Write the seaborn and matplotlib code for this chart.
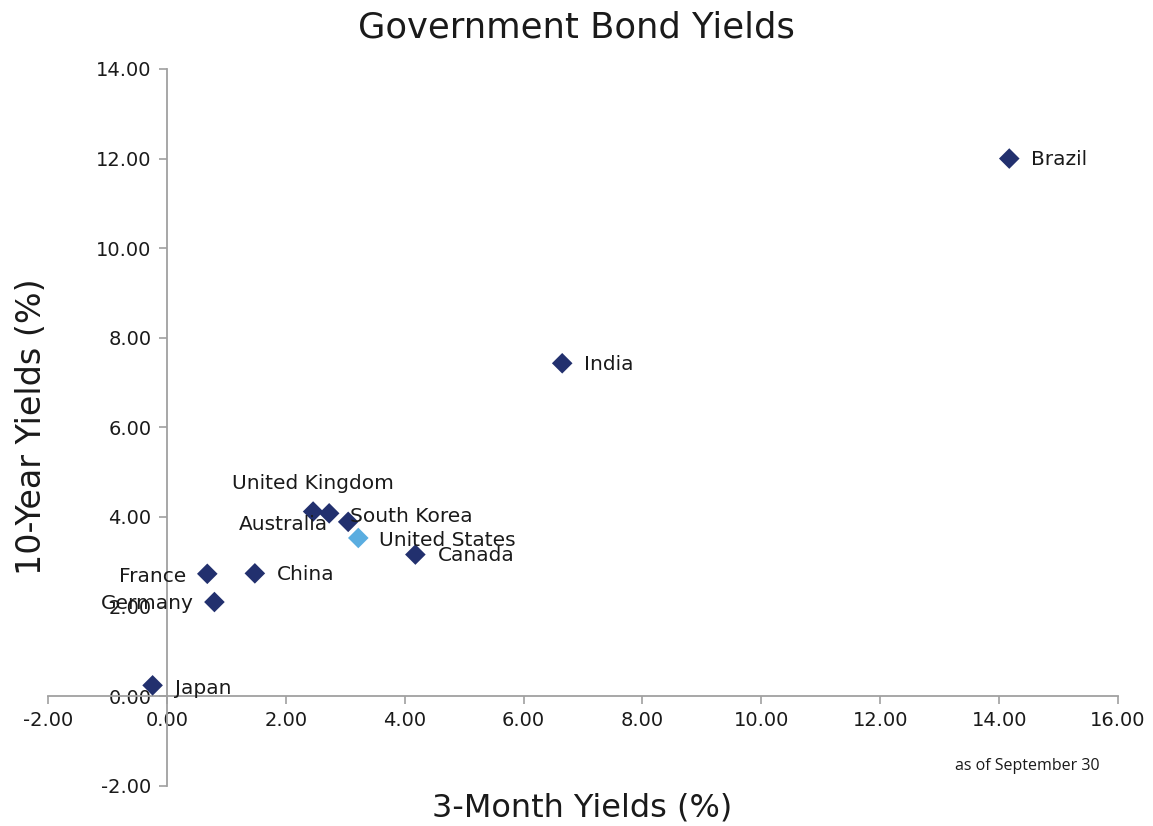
import seaborn as sns
import pandas as pd
import matplotlib.pyplot as plt

# data (3-month yield, 10-year yield)
countries = ["Brazil", "India", "United Kingdom", "Australia", "South Korea",
             "United States", "Canada", "China", "France", "Germany", "Japan"]
three_month = [14.17, 6.65, 2.46, 2.73, 3.05, 3.22, 4.18, 1.48, 0.68, 0.80, -0.24]
ten_year = [12.00, 7.43, 4.12, 4.08, 3.89, 3.53, 3.16, 2.74, 2.73, 2.10, 0.24]
highlight = ["other"] * 5 + ["us"] + ["other"] * 5

# label offsets in points and alignment, to mimic the hand-placed Excel labels
label_pos = {
    "Brazil": (16, -1, "left"),
    "India": (16, -1, "left"),
    "United Kingdom": (0, 20, "center"),
    "Australia": (-1, -8, "right"),
    "South Korea": (1, 4, "left"),
    "United States": (15, -2, "left"),
    "Canada": (16, -1, "left"),
    "China": (16, -1, "left"),
    "France": (-15, -2, "right"),
    "Germany": (-15, -1, "right"),
    "Japan": (16, -2, "left"),
}

df = pd.DataFrame({"country": countries, "x": three_month, "y": ten_year,
                   "group": highlight})

sns.set_style("white")
plt.rcParams["font.family"] = ["DejaVu Sans"]

fig = plt.figure(figsize=(11.53, 8.26), dpi=100)
ax = fig.add_axes([0.0416, 0.0488, 0.9281, 0.8677])

sns.scatterplot(data=df, x="x", y="y", hue="group",
                palette={"other": "#22306e", "us": "#5aade0"},
                marker="D", s=110, linewidth=0, legend=False, ax=ax, zorder=3)

for name, xv, yv in zip(countries, three_month, ten_year):
    dx, dy, ha = label_pos[name]
    ax.annotate(name, (xv, yv), xytext=(dx, dy), textcoords="offset points",
                ha=ha, va="center", fontsize=14.5, color="#1a1a1a", zorder=4)

ax.set_xlim(-2, 16)
ax.set_ylim(-2, 14)
ax.set_xticks(range(-2, 17, 2))
ax.set_yticks(range(-2, 15, 2))
ax.set_xticklabels([f"{v:.2f}" for v in range(-2, 17, 2)])
ax.set_yticklabels([f"{v:.2f}" for v in range(-2, 15, 2)])

# axes cross at zero like the Excel original
ax.spines["left"].set_position(("data", 0))
ax.spines["bottom"].set_position(("data", 0))
ax.spines["top"].set_visible(False)
ax.spines["right"].set_visible(False)
for side in ["left", "bottom"]:
    ax.spines[side].set_color("#a0a0a0")
    ax.spines[side].set_linewidth(1.3)
ax.tick_params(axis="both", direction="out", length=6, width=1.2,
               bottom=True, left=True,
               color="#a0a0a0", labelsize=14, labelcolor="#1a1a1a", pad=5)

ax.set_xlabel("")
ax.set_ylabel("")
fig.text(0.505, 0.022, "3-Month Yields (%)", ha="center", va="center",
         fontsize=23, color="#1a1a1a")
fig.text(0.027, 0.484, "10-Year Yields (%)", ha="center", va="center",
         rotation=90, fontsize=24, color="#1a1a1a")
fig.text(0.5, 0.967, "Government Bond Yields", ha="center", va="center",
         fontsize=25.5, color="#1a1a1a")
fig.text(0.8285, 0.073, "as of September 30", ha="left", va="center",
         fontsize=11.5, family="Open Sans", color="#1a1a1a")

fig.savefig("out.png", dpi=100)
